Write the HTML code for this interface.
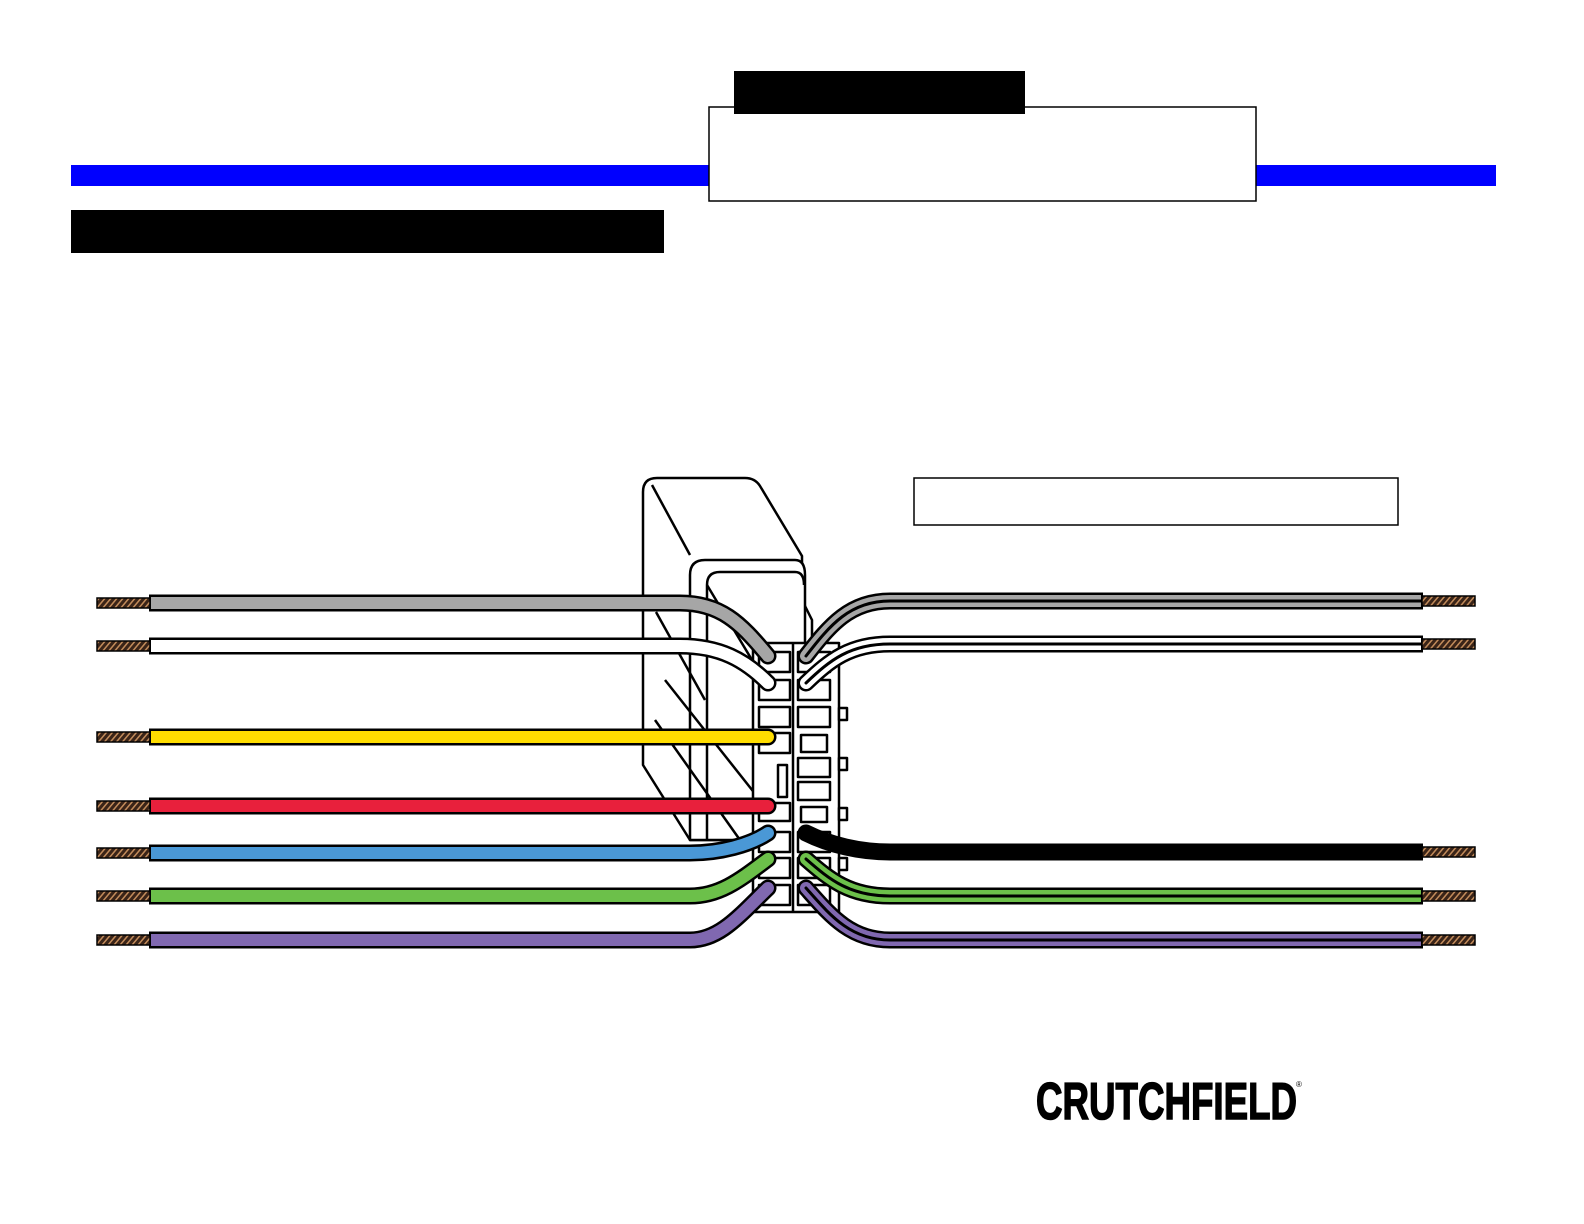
<!DOCTYPE html>
<html><head><style>html,body{margin:0;padding:0;background:#fff;overflow:hidden;width:1584px;height:1224px}svg{display:block}</style></head>
<body>
<svg width="1584" height="1224" viewBox="0 0 1584 1224" xmlns="http://www.w3.org/2000/svg">
<defs>
<pattern id="cu" width="6" height="10" patternUnits="userSpaceOnUse" patternTransform="skewX(-40)">
<rect width="6" height="10" fill="#3a2418"/><rect width="2" height="10" fill="#c08a5a"/>
</pattern>
</defs>
<rect x="71" y="165" width="1425" height="21" fill="#0000ff"/>
<rect x="709" y="107" width="547" height="94" fill="#fff" stroke="#000" stroke-width="1.5"/>
<rect x="734" y="71" width="291" height="43" fill="#000"/>
<rect x="71" y="210" width="593" height="43" fill="#000"/>
<rect x="914" y="478" width="484" height="47" fill="#fff" stroke="#000" stroke-width="1.5"/>

<g fill="#fff" stroke="#000" stroke-width="2.5" stroke-linejoin="round">
<path d="M643,492 Q643,478 657,478 H745 Q755,478 760,486 L802,556 V600 L812,620 L812,840 L690,840 L643,765 Z"/>
<path d="M652,485 L690,555"/>
<path d="M690,575 Q690,560 705,560 H795 Q805,560 805,575 V840 H690 Z"/>
<path d="M707,585 Q707,572 720,572 H795 Q804,572 804,585"/>
<path d="M707,585 V840" fill="none"/>
<path d="M707,585 L812,760" fill="none"/>
<path d="M656,612 L705,700" fill="none"/>
<path d="M665,680 L760,800" fill="none"/>
<path d="M655,720 L740,840" fill="none"/>
<rect x="753" y="643" width="86" height="269"/>
<path d="M793,643 V912" fill="none"/>
<rect x="839" y="708" width="8" height="12"/><rect x="839" y="758" width="8" height="12"/><rect x="839" y="808" width="8" height="12"/><rect x="839" y="858" width="8" height="12"/>
<rect x="759" y="652" width="31" height="20"/><rect x="798" y="652" width="32" height="20"/>
<rect x="759" y="680" width="31" height="20"/><rect x="798" y="680" width="32" height="20"/>
<rect x="759" y="707" width="31" height="20"/><rect x="798" y="707" width="32" height="20"/>
<rect x="759" y="733" width="31" height="20"/><rect x="801" y="735" width="26" height="17"/>
<rect x="778" y="765" width="9" height="32"/><rect x="798" y="758" width="32" height="19"/>
<rect x="798" y="782" width="32" height="18"/>
<rect x="759" y="803" width="31" height="18"/><rect x="801" y="807" width="26" height="15"/>
<rect x="759" y="832" width="31" height="20"/><rect x="798" y="832" width="32" height="20"/>
<rect x="759" y="858" width="31" height="20"/><rect x="798" y="858" width="32" height="20"/>
<rect x="759" y="885" width="31" height="20"/><rect x="798" y="885" width="32" height="20"/>
</g>

<g fill="none" stroke-linecap="round">
<g stroke="#000" stroke-width="17">
<path d="M150,603 H680 C720,603 740,622 768,656"/>
<path d="M150,646 H680 C720,646 745,660 768,683"/>
<path d="M150,737 H768"/>
<path d="M150,806 H768"/>
<path d="M150,853 H690 C720,853 750,845 768,833"/>
<path d="M150,896 H690 C720,896 740,880 768,859"/>
<path d="M150,940 H690 C720,940 740,915 768,888"/>
<path d="M806,656 C830,625 850,601 890,601 H1422"/>
<path d="M806,683 C830,660 850,644 890,644 H1422"/>
<path d="M806,833 C830,845 860,852 890,852 H1422"/>
<path d="M806,859 C830,880 850,896 890,896 H1422"/>
<path d="M806,888 C830,915 850,940 890,940 H1422"/>
</g>
<g stroke-width="12">
<path stroke="#a6a6a6" d="M150,603 H680 C720,603 740,622 768,656"/>
<path stroke="#fff" d="M150,646 H680 C720,646 745,660 768,683"/>
<path stroke="#ffdd00" d="M150,737 H768"/>
<path stroke="#e8203c" d="M150,806 H768"/>
<path stroke="#4a98d6" d="M150,853 H690 C720,853 750,845 768,833"/>
<path stroke="#6cc04a" d="M150,896 H690 C720,896 740,880 768,859"/>
<path stroke="#8068b0" d="M150,940 H690 C720,940 740,915 768,888"/>
<path stroke="#a6a6a6" d="M806,656 C830,625 850,601 890,601 H1422"/>
<path stroke="#fff" d="M806,683 C830,660 850,644 890,644 H1422"/>
<path stroke="#000" d="M806,833 C830,845 860,852 890,852 H1422"/>
<path stroke="#6cc04a" d="M806,859 C830,880 850,896 890,896 H1422"/>
<path stroke="#8068b0" d="M806,888 C830,915 850,940 890,940 H1422"/>
</g>
<g stroke="#000" stroke-width="3">
<path d="M806,656 C830,625 850,601 890,601 H1422"/>
<path d="M806,683 C830,660 850,644 890,644 H1422"/>
<path d="M806,859 C830,880 850,896 890,896 H1422"/>
<path d="M806,888 C830,915 850,940 890,940 H1422"/>
</g>
</g>

<g fill="#fff">
<rect x="130" y="590" width="20" height="360"/>
<rect x="1422" y="590" width="20" height="360"/>
</g>
<g stroke="#000" stroke-width="2">
<path d="M150,594.5 V611.5 M150,637.5 V654.5 M150,728.5 V745.5 M150,797.5 V814.5 M150,844.5 V861.5 M150,887.5 V904.5 M150,931.5 V948.5"/>
<path d="M1422,592.5 V609.5 M1422,635.5 V652.5 M1422,843.5 V860.5 M1422,887.5 V904.5 M1422,931.5 V948.5"/>
</g>
<g stroke="#000" stroke-width="1.5">
<rect x="97" y="598" width="53" height="10" fill="url(#cu)"/>
<rect x="97" y="641" width="53" height="10" fill="url(#cu)"/>
<rect x="97" y="732" width="53" height="10" fill="url(#cu)"/>
<rect x="97" y="801" width="53" height="10" fill="url(#cu)"/>
<rect x="97" y="848" width="53" height="10" fill="url(#cu)"/>
<rect x="97" y="891" width="53" height="10" fill="url(#cu)"/>
<rect x="97" y="935" width="53" height="10" fill="url(#cu)"/>
<rect x="1422" y="596" width="53" height="10" fill="url(#cu)"/>
<rect x="1422" y="639" width="53" height="10" fill="url(#cu)"/>
<rect x="1422" y="847" width="53" height="10" fill="url(#cu)"/>
<rect x="1422" y="891" width="53" height="10" fill="url(#cu)"/>
<rect x="1422" y="935" width="53" height="10" fill="url(#cu)"/>
</g>

<text x="1036" y="1119" font-family="Liberation Sans, sans-serif" font-weight="bold" font-size="52" textLength="261" lengthAdjust="spacingAndGlyphs" fill="#000" stroke="#000" stroke-width="1.5">CRUTCHFIELD</text>
<text x="1296" y="1087" font-family="Liberation Sans, sans-serif" font-size="8" fill="#000">®</text>
</svg>
</body></html>
